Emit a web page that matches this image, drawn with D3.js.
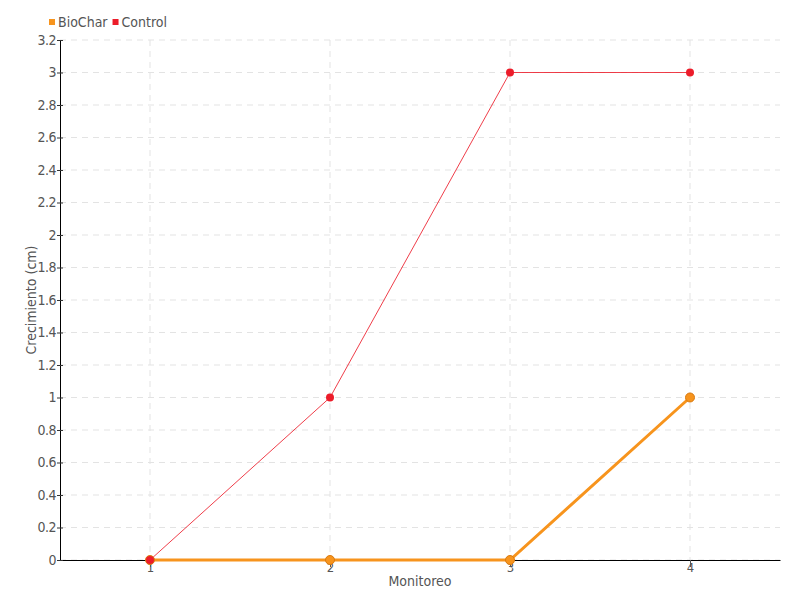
<!DOCTYPE html>
<html>
<head>
<meta charset="utf-8">
<script src="https://cdn.jsdelivr.net/npm/d3@7"></script>
<style>
  body { margin: 0; background: #fff; }
  text { font-family: "DejaVu Sans Condensed", "Liberation Sans Narrow", "Noto Sans", sans-serif; font-stretch: condensed; fill: #555; }
</style>
</head>
<body>
<div id="chart"></div>
<script>
// data
const monitoreo = [1, 2, 3, 4];
const biochar = [0, 0, 0, 1];
const control = [0, 1, 3, 3];
const yTicks = [0, 0.2, 0.4, 0.6, 0.8, 1, 1.2, 1.4, 1.6, 1.8, 2, 2.2, 2.4, 2.6, 2.8, 3, 3.2];
const seriesNames = ["BioChar", "Control"];
const seriesColors = ["#f7941d", "#ec1c2a"];

const W = 800, H = 600;
const m = {top: 40, right: 20, bottom: 40, left: 60};

let svg = d3.select("#chart").append("svg").attr("width", W).attr("height", H);

let x = d3.scaleLinear().domain([0.5, 4.5]).range([m.left, W - m.right]);
let y = d3.scaleLinear().domain([0, 3.2]).range([H - m.bottom, m.top]);

// grid
let grid = svg.append("g");
grid.selectAll(".hg").data(yTicks).enter().append("line")
  .attr("x1", m.left).attr("x2", W - m.right)
  .attr("y1", d => y(d)).attr("y2", d => y(d))
  .attr("stroke", "#e3e3e3").attr("stroke-dasharray", "6,5");
grid.selectAll(".vg").data(monitoreo).enter().append("line")
  .attr("x1", d => x(d)).attr("x2", d => x(d))
  .attr("y1", m.top).attr("y2", H - m.bottom)
  .attr("stroke", "#e3e3e3").attr("stroke-dasharray", "6,5");

// axes
let xAxis = d3.axisBottom(x).tickValues(monitoreo).tickSize(7).tickSizeOuter(0).tickFormat(d3.format("d"));
let gx = svg.append("g").attr("transform", `translate(0,${H - m.bottom})`).call(xAxis);
gx.select(".domain").attr("stroke", "#000");
gx.selectAll(".tick line").attr("stroke", "#555");
gx.selectAll(".tick text").attr("y", 3).style("font-size", "13px");

let yAxis = d3.axisLeft(y).tickValues(yTicks).tickSize(3).tickSizeOuter(0).tickFormat(d => d3.format("")(+d.toFixed(1)));
let gy = svg.append("g").attr("transform", `translate(${m.left},0)`).call(yAxis);
gy.select(".domain").attr("stroke", "#000");
gy.selectAll(".tick line").attr("stroke", "#333").attr("x2", 3).attr("x1", -3);
gy.selectAll(".tick text").attr("x", -4).style("font-size", "14px").style("letter-spacing", "-0.5px");

// lines
let line = d3.line().x((d, i) => x(monitoreo[i])).y(d => y(d));
svg.append("path").datum(biochar).attr("fill", "none")
  .attr("stroke", seriesColors[0]).attr("stroke-width", 3).attr("d", line);
svg.append("path").datum(control).attr("fill", "none")
  .attr("stroke", seriesColors[1]).attr("stroke-opacity", 0.85).attr("stroke-width", 1).attr("d", line);

// points
svg.append("g").selectAll("circle").data(biochar).enter().append("circle")
  .attr("cx", (d, i) => x(monitoreo[i])).attr("cy", d => y(d)).attr("r", 4.5)
  .attr("fill", seriesColors[0]).attr("stroke", "#d97a10").attr("stroke-width", 1);
svg.append("g").selectAll("circle").data(control).enter().append("circle")
  .attr("cx", (d, i) => x(monitoreo[i])).attr("cy", d => y(d)).attr("r", 4)
  .attr("fill", seriesColors[1]);

// axis titles
svg.append("text").attr("x", (m.left + W - m.right) / 2).attr("y", 586)
  .attr("text-anchor", "middle").style("font-size", "14px").text("Monitoreo");
svg.append("text").attr("transform", `translate(36,${(m.top + H - m.bottom) / 2}) rotate(-90)`)
  .attr("text-anchor", "middle").style("font-size", "14px").text("Crecimiento (cm)");

// legend
let lx = 49;
seriesNames.forEach((n, i) => {
  let g = svg.append("g").attr("transform", `translate(${lx},0)`);
  g.append("rect").attr("x", 0).attr("y", 19).attr("width", 6).attr("height", 6).attr("fill", seriesColors[i]);
  let t = g.append("text").attr("x", 9).attr("y", 27).style("font-size", "14px").text(n);
  lx += 9 + t.node().getComputedTextLength() + 5;
});
</script>
</body>
</html>
